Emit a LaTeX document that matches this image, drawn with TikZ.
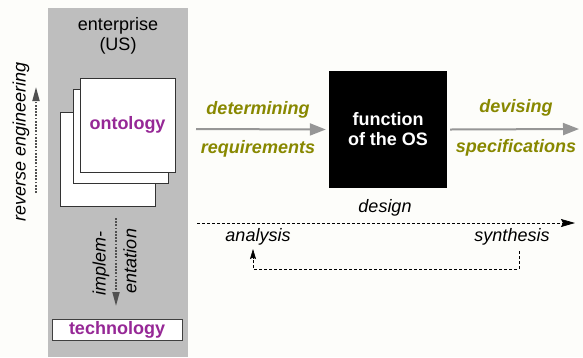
\documentclass[tikz,border=0pt]{standalone}
\usepackage{fontspec}
\setmainfont{Liberation Sans}
\usetikzlibrary{arrows.meta}
\definecolor{panel}{RGB}{190,190,190}
\definecolor{purp}{RGB}{150,40,150}
\definecolor{olivegreen}{RGB}{136,136,0}
\definecolor{arrowgray}{RGB}{150,150,150}
\definecolor{dotgray}{RGB}{80,80,80}
\definecolor{bgc}{RGB}{253,253,250}
\tikzset{
  txt/.style={font=\fontsize{18}{20}\selectfont, inner sep=0pt, align=center},
  itxt/.style={txt, font=\fontsize{18}{20}\selectfont\itshape},
  verb/.style={txt, font=\fontsize{18}{20}\selectfont\bfseries\itshape, text=olivegreen},
  pagebox/.style={draw=black!80, fill=white, line width=0.8pt, minimum width=95, minimum height=94, inner sep=0pt},
  bigarrow/.style={draw=arrowgray, line width=2pt, -{Triangle[length=16,width=12]}},
  dotarrow/.style={draw=dotgray, line width=1.8pt, dash pattern=on 1.8pt off 1.4pt, -{Triangle[length=14,width=7]}},
  designarrow/.style={draw=black, line width=0.8pt, dash pattern=on 3pt off 2pt, -{Stealth[length=14,width=8,inset=2pt]}},
  loopline/.style={draw=black, line width=0.7pt, dash pattern=on 3pt off 2pt}
}
\begin{document}
\begin{tikzpicture}[x=1pt,y=-1pt]
\useasboundingbox[fill=bgc] (0,0) rectangle (583,357);
\fill[panel] (48,8) rectangle (188,357);
\node[txt] (ent) at (118,36) {enterprise\\(US)};
% stacked pages
\node[pagebox] (p3) at (107.5,159.5) {};
\node[pagebox] (p2) at (120.5,136) {};
\node[pagebox, font=\fontsize{18}{20}\selectfont\bfseries, text=purp] (onto) at (127.5,125) {ontology};
% technology
\node[draw=black!75, fill=white, line width=0.8pt, minimum width=130, minimum height=21, inner sep=0pt,
      font=\fontsize{18}{20}\selectfont\bfseries, text=purp] (tech) at (117,330) {technology};
% reverse engineering
\node[itxt, rotate=90] (rev) at (21,142) {reverse engineering};
\coordinate (r1) at (36,193);
\coordinate (r2) at (36,87);
\draw[dotarrow] (r1) -- (r2);
% implementation
\node[itxt, rotate=90] (imp1) at (101,263) {implem-};
\node[itxt, rotate=90] (imp2) at (130,261) {entation};
\coordinate (i1) at (116,218);
\coordinate (i2) at (116,306);
\draw[dotarrow] (i1) -- (i2);
% function box
\node[fill=black, minimum width=118, minimum height=117, inner sep=0pt, txt, font=\fontsize{18}{20}\selectfont\bfseries, text=white] (fos) at (388,129.5) {function\\of the OS};
\coordinate (a0) at (196,129);
\coordinate (a1) at (579,129);
\draw[bigarrow] (a0) -- ([xshift=-3pt]fos.west);
\draw[bigarrow] ([xshift=3pt]fos.east) -- (a1);
\node[verb] (det) at (258,110) {determining};
\node[verb] (req) at (258,149) {requirements};
\node[verb] (dev) at (516,108) {devising};
\node[verb] (spec) at (516,148) {specifications};
% design
\coordinate (d0) at (197,223);
\coordinate (d1) at (575,223);
\draw[designarrow] (d0) -- (d1);
\node[itxt] (des) at (385,208) {design};
\node[itxt] (ana) at (258,237) {analysis};
\node[itxt] (syn) at (512,237) {synthesis};
\coordinate (l0) at (519,251);
\coordinate (l1) at (519,269);
\coordinate (l2) at (253,269);
\coordinate (l3) at (253,249);
\coordinate (l4) at (253,259);
\draw[loopline] (l0) -- (l1) -- (l2) -- (l4);
\draw[-{Stealth[length=10,width=6,inset=1.5pt]}, line width=0.7pt] (l4) -- (l3);
\end{tikzpicture}
\end{document}
